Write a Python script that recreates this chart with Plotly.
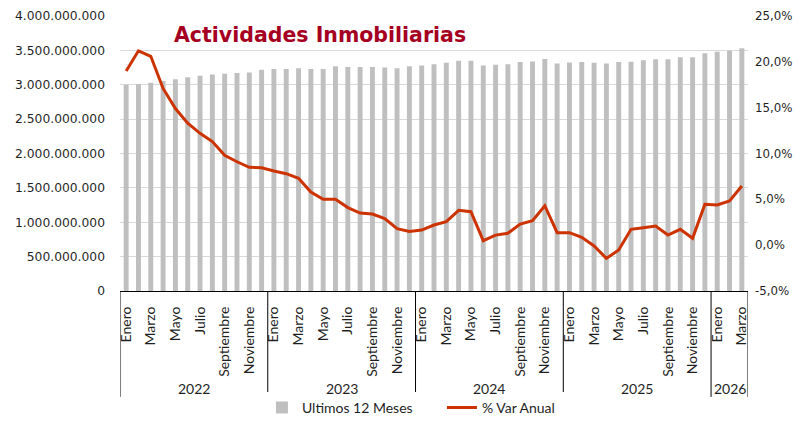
import plotly.graph_objects as go

years = [2022] * 12 + [2023] * 12 + [2024] * 12 + [2025] * 12 + [2026] * 3
month_names = ["Enero", "Febrero", "Marzo", "Abril", "Mayo", "Junio", "Julio",
               "Agosto", "Septiembre", "Octubre", "Noviembre", "Diciembre"]
months = (month_names * 5)[:51]

ultimos_12 = [3.00e9, 3.01e9, 3.03e9, 3.055e9, 3.08e9, 3.11e9, 3.13e9, 3.15e9, 3.16e9, 3.17e9, 3.18e9, 3.22e9,
              3.23e9, 3.23e9, 3.24e9, 3.23e9, 3.23e9, 3.27e9, 3.26e9, 3.26e9, 3.26e9, 3.25e9, 3.24e9, 3.27e9,
              3.28e9, 3.30e9, 3.32e9, 3.35e9, 3.35e9, 3.28e9, 3.29e9, 3.30e9, 3.33e9, 3.34e9, 3.375e9, 3.31e9,
              3.325e9, 3.33e9, 3.32e9, 3.31e9, 3.33e9, 3.335e9, 3.355e9, 3.37e9, 3.37e9, 3.40e9, 3.40e9, 3.46e9,
              3.48e9, 3.495e9, 3.53e9]
var_anual = [19.0, 21.2, 20.6, 17.1, 14.9, 13.3, 12.2, 11.3, 9.8, 9.1, 8.5, 8.45,
             8.1, 7.8, 7.3, 5.8, 5.0, 5.0, 4.1, 3.5, 3.4, 2.9, 1.8, 1.5,
             1.65, 2.2, 2.56, 3.8, 3.65, 0.49, 1.1, 1.3, 2.3, 2.67, 4.3, 1.36,
             1.36, 0.85, -0.09, -1.44, -0.53, 1.73, 1.9, 2.09, 1.1, 1.73, 0.75, 4.46,
             4.38, 4.82, 6.45]

left_ticks = [0, 500e6, 1000e6, 1500e6, 2000e6, 2500e6, 3000e6, 3500e6, 4000e6]
right_ticks = [-5, 0, 5, 10, 15, 20, 25]
right_text = [f"{v:.1f}%".replace(".", ",") for v in right_ticks]

cats = [f"{y}-{m}" for y, m in zip(years, months)]
shown = [i for i, m in enumerate(months) if month_names.index(m) % 2 == 0]

BAR = "#BFBFBF"
LINE = "#CC3300"
TXT = "#1F1F1F"
SANS = "DejaVu Sans"
HUM = "Lato"

fig = go.Figure()
fig.add_trace(go.Bar(x=cats, y=ultimos_12, name="Ultimos 12 Meses", marker_color=BAR,
                     marker_line_width=0))
fig.add_trace(go.Scatter(x=cats, y=var_anual, name="% Var Anual", yaxis="y2", mode="lines",
                         line=dict(color=LINE, width=3)))

# year dividers and labels
year_list = sorted(set(years))
bounds = []
start = 0
shapes = []
annotations = []
for yr in year_list:
    n = years.count(yr)
    end = start + n
    annotations.append(dict(x=(start + end - 1) / 2, y=-0.353, xref="x", yref="paper",
                            text=str(yr), showarrow=False, yanchor="middle",
                            font=dict(family=HUM, size=14, color=TXT)))
    bounds.append(start - 0.5)
    start = end
bounds.append(start - 0.5)
for b in bounds:
    shapes.append(dict(type="line", xref="x", yref="paper", x0=b, x1=b, y0=0, y1=-0.385,
                       line=dict(color="#000000", width=1)))

annotations.append(dict(x=0.083, y=0.93, xref="paper", yref="paper", xanchor="left", yanchor="middle",
                        text="<b>Actividades Inmobiliarias</b>", showarrow=False,
                        font=dict(family=SANS, size=20.5, color="#A50021")))

# page body has an 8px margin: figure sized to fit inside the 802x425 window
fig.update_layout(
    width=786, height=409,
    margin=dict(l=112, r=46, t=8, b=126, autoexpand=False),
    paper_bgcolor="white", plot_bgcolor="white",
    separators=",.",
    bargap=0.6,
    showlegend=True,
    legend=dict(orientation="h", x=0.226, y=-0.425, xanchor="left", yanchor="middle",
                entrywidth=135, entrywidthmode="pixels",
                font=dict(family=HUM, size=14, color=TXT)),
    xaxis=dict(type="category", categoryorder="array", categoryarray=cats,
               range=[-0.5, len(cats) - 0.5], automargin=False,
               tickmode="array", tickvals=[cats[i] for i in shown], ticktext=[months[i] for i in shown],
               tickangle=-90, ticks="", showgrid=False, showline=True, linecolor="#000000", linewidth=1,
               ticklabelstandoff=9,
               tickfont=dict(family=HUM, size=14, color=TXT)),
    yaxis=dict(range=[0, 4e9], tickmode="array", tickvals=left_ticks, tickformat=",.0f",
               showgrid=True, gridcolor="#D9D9D9", gridwidth=1, zeroline=False, automargin=False,
               ticklabelstandoff=14,
               tickfont=dict(family=SANS, size=12.3, color=TXT), ticks=""),
    yaxis2=dict(range=[-5, 25], overlaying="y", side="right", tickmode="array", tickvals=right_ticks,
                ticktext=right_text, showgrid=False, zeroline=False, automargin=False,
                ticklabelstandoff=6,
                tickfont=dict(family=SANS, size=11.8, color=TXT), ticks=""),
    shapes=shapes,
    annotations=annotations,
)

fig.write_html("out.html")
